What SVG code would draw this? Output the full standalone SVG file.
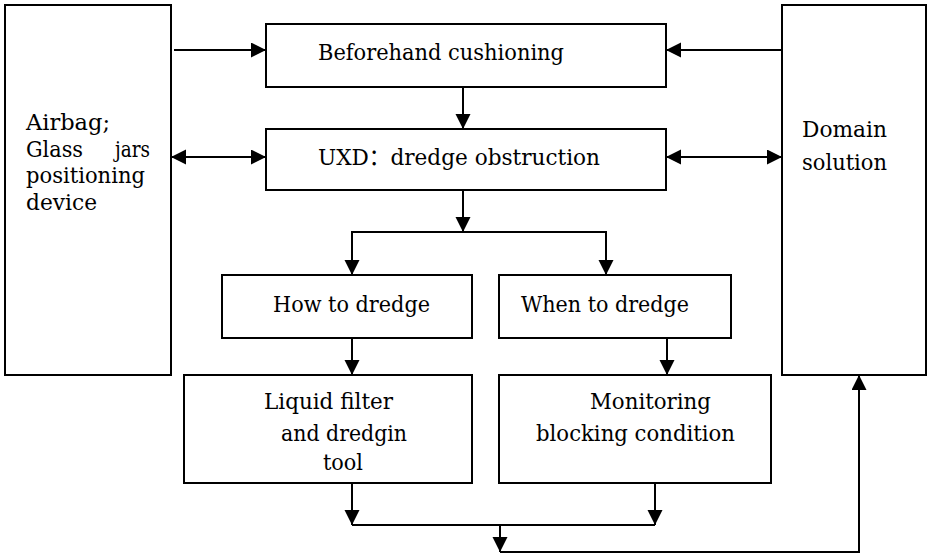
<svg xmlns="http://www.w3.org/2000/svg" width="927" height="554" viewBox="0 0 927 554">
<style>
.box{fill:#fff;stroke:#000;stroke-width:2}
.ln{fill:none;stroke:#000;stroke-width:2}
.t{font-size:23px;fill:#000}
.t text{font-family:"DejaVu Serif","Noto Sans CJK SC",serif}
</style>
<defs>
<marker id="ah" markerUnits="userSpaceOnUse" markerWidth="16" markerHeight="16" refX="15" refY="7.5" orient="auto-start-reverse">
<path d="M0,0 L15,7.5 L0,15 z" fill="#000"/>
</marker>
</defs>
<rect width="927" height="554" fill="#fff"/>
<g class="t">
<g id="airbag"><rect class="box" x="5" y="5" width="166" height="370"/>
<text x="26" y="130" textLength="84" lengthAdjust="spacingAndGlyphs">Airbag;</text>
<text x="26" y="157" textLength="57" lengthAdjust="spacingAndGlyphs">Glass</text><text x="115" y="157" textLength="35" lengthAdjust="spacingAndGlyphs">jars</text>
<text x="26" y="183" textLength="119" lengthAdjust="spacingAndGlyphs">positioning</text>
<text x="26" y="210" textLength="71" lengthAdjust="spacingAndGlyphs">device</text></g>
<g id="domain"><rect class="box" x="782" y="5" width="144" height="370"/>
<text x="802" y="137" textLength="85" lengthAdjust="spacingAndGlyphs">Domain</text>
<text x="802" y="170" textLength="85" lengthAdjust="spacingAndGlyphs">solution</text></g>
<g id="beforehand"><rect class="box" x="266" y="24" width="400" height="63"/>
<text x="318" y="60" textLength="246" lengthAdjust="spacingAndGlyphs">Beforehand cushioning</text></g>
<g id="uxd"><rect class="box" x="266" y="129" width="400" height="61"/>
<text x="318" y="165" textLength="282" lengthAdjust="spacingAndGlyphs">UXD：dredge obstruction</text></g>
<g id="how"><rect class="box" x="222" y="275" width="250" height="63"/>
<text x="273" y="312" textLength="157" lengthAdjust="spacingAndGlyphs">How to dredge</text></g>
<g id="when"><rect class="box" x="499" y="275" width="232" height="63"/>
<text x="521" y="312" textLength="168" lengthAdjust="spacingAndGlyphs">When to dredge</text></g>
<g id="liquid"><rect class="box" x="184" y="375" width="288" height="108"/>
<text x="264" y="409" textLength="129" lengthAdjust="spacingAndGlyphs">Liquid filter</text>
<text x="281" y="441" textLength="126" lengthAdjust="spacingAndGlyphs">and dredgin</text>
<text x="323" y="470" textLength="40" lengthAdjust="spacingAndGlyphs">tool</text></g>
<g id="monitoring"><rect class="box" x="499" y="375" width="272" height="108"/>
<text x="590" y="409" textLength="121" lengthAdjust="spacingAndGlyphs">Monitoring</text>
<text x="536" y="441" textLength="199" lengthAdjust="spacingAndGlyphs">blocking condition</text></g>
</g>
<g id="connectors">
<path class="ln" d="M174,50 H266" marker-end="url(#ah)"/>
<path class="ln" d="M782,50 H666" marker-end="url(#ah)"/>
<path class="ln" d="M171,157 H266" marker-start="url(#ah)" marker-end="url(#ah)"/>
<path class="ln" d="M666,157 H782" marker-start="url(#ah)" marker-end="url(#ah)"/>
<path class="ln" d="M463,87 V129" marker-end="url(#ah)"/>
<path class="ln" d="M463,190 V232" marker-end="url(#ah)"/>
<path class="ln" d="M352,275 V232 H606 V275" marker-start="url(#ah)" marker-end="url(#ah)"/>
<path class="ln" d="M352,338 V375" marker-end="url(#ah)"/>
<path class="ln" d="M667,338 V375" marker-end="url(#ah)"/>
<path class="ln" d="M352,483 V525" marker-end="url(#ah)"/>
<path class="ln" d="M655,483 V525" marker-end="url(#ah)"/>
<path class="ln" d="M352,525 H655"/>
<path class="ln" d="M500,525 V552" marker-end="url(#ah)"/>
<path class="ln" d="M500,552 H859 V375" marker-end="url(#ah)"/>
</g>
</svg>
